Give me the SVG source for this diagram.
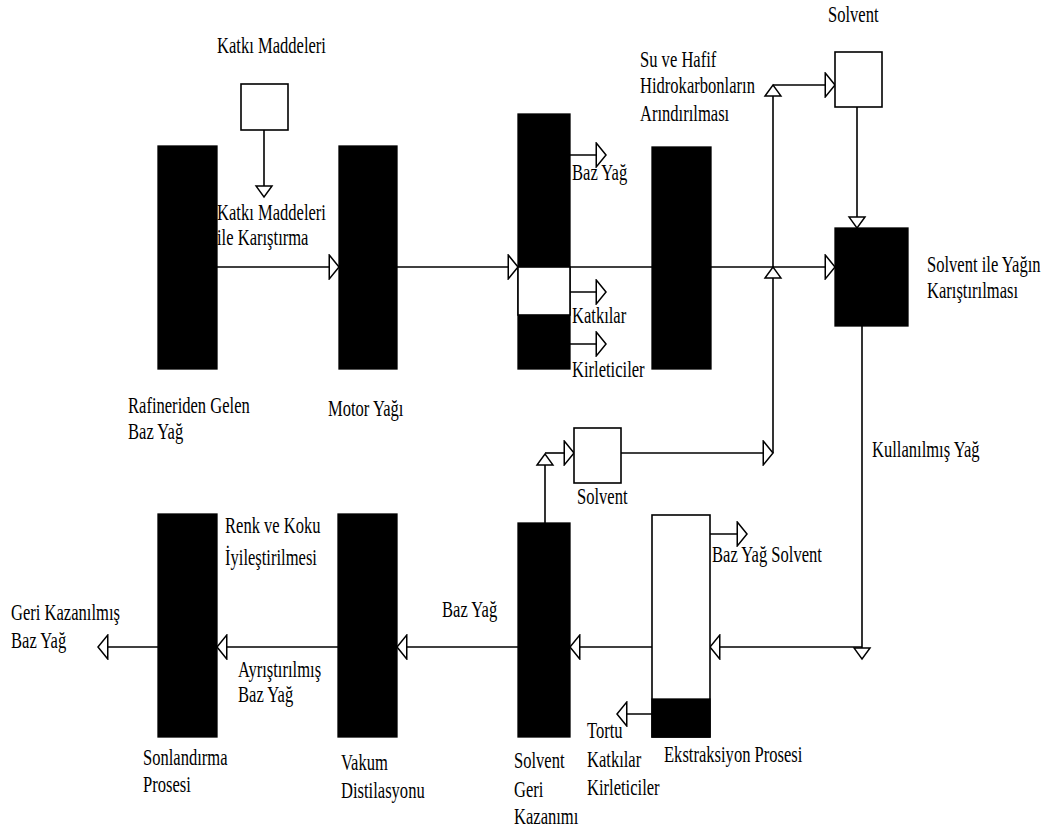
<svg xmlns="http://www.w3.org/2000/svg" width="1055" height="832" viewBox="0 0 1055 832">
<style>
.bar{fill:#000;stroke:#000;stroke-width:1.3}
.box{fill:#fff;stroke:#000;stroke-width:1.6}
.ln{fill:none;stroke:#000;stroke-width:1.6}
.lh{fill:none;stroke:#000;stroke-width:1.6;marker-end:url(#ah)}
.lv{fill:none;stroke:#000;stroke-width:1.6;marker-end:url(#av)}
.t{font-family:'Liberation Serif','DejaVu Serif','Times New Roman',serif;font-size:24px;fill:#000}
</style>
<defs>
<marker id="ah" markerUnits="userSpaceOnUse" markerWidth="14" markerHeight="26" viewBox="-1 -12 12 24" refX="9" refY="0" orient="auto">
<path d="M0,-11 L9,0 L0,11 Z" fill="#fff" stroke="#000" stroke-width="1.4"/>
</marker>
<marker id="av" markerUnits="userSpaceOnUse" markerWidth="14" markerHeight="20" viewBox="-1 -9 14 18" refX="11" refY="0" orient="auto">
<path d="M0,-8 L11,0 L0,8 Z" fill="#fff" stroke="#000" stroke-width="1.4"/>
</marker>
</defs>
<rect width="1055" height="832" fill="#fff"/>

<g id="connectors">
<path class="lv" d="M264,130 V197"/>
<path class="lh" d="M217,267 H339"/>
<path class="lh" d="M397,267 H518"/>
<path class="ln" d="M570,267 H652"/>
<path class="lh" d="M711,267 H835"/>
<path class="lh" d="M570,155 H606"/>
<path class="lh" d="M570,292 H606"/>
<path class="lh" d="M570,344 H606"/>
<path class="lv" d="M773,276 V85"/>
<path class="lv" d="M773,453 V267"/>
<path class="lh" d="M773,85 H835"/>
<path class="lv" d="M857,107 V228"/>
<path class="lh" d="M621,453 H773"/>
<path class="lv" d="M545,523 V454"/>
<path class="lh" d="M545,453 H574"/>
<path class="lv" d="M862,326 V659"/>
<path class="lh" d="M862,647 H710"/>
<path class="lh" d="M652,647 H570"/>
<path class="lh" d="M518,647 H397"/>
<path class="lh" d="M338,647 H217"/>
<path class="lh" d="M158,647 H98"/>
<path class="lh" d="M710,534 H747"/>
<path class="lh" d="M652,714 H617"/>
</g>

<g id="katki-box"><rect class="box" x="241" y="84" width="47" height="46"/>
<text class="t" font-family="Liberation Serif, serif" transform="translate(217,0) scale(0.69,1)"><tspan x="0" y="53">Katkı Maddeleri</tspan></text></g>

<g id="rafineri"><rect class="bar" x="158" y="146" width="59" height="223"/>
<text class="t" font-family="Liberation Serif, serif" transform="translate(128,0) scale(0.69,1)"><tspan x="0" y="413">Rafineriden Gelen</tspan><tspan x="0" y="439">Baz Yağ</tspan></text></g>

<g id="katki-label"><text class="t" font-family="Liberation Serif, serif" transform="translate(217,0) scale(0.69,1)"><tspan x="0" y="220">Katkı Maddeleri</tspan><tspan x="0" y="245">ile Karıştırma</tspan></text></g>

<g id="motor"><rect class="bar" x="339" y="146" width="58" height="223"/>
<text class="t" font-family="Liberation Serif, serif" transform="translate(328,0) scale(0.69,1)"><tspan x="0" y="416">Motor Yağı</tspan></text></g>

<g id="ayirma"><rect class="bar" x="518" y="114" width="52" height="255"/>
<rect class="box" x="518" y="267" width="52" height="48"/>
<text class="t" font-family="Liberation Serif, serif" transform="translate(572,0) scale(0.69,1)"><tspan x="0" y="180">Baz Yağ</tspan></text>
<text class="t" font-family="Liberation Serif, serif" transform="translate(572,0) scale(0.69,1)"><tspan x="0" y="323">Katkılar</tspan></text>
<text class="t" font-family="Liberation Serif, serif" transform="translate(572,0) scale(0.69,1)"><tspan x="0" y="377">Kirleticiler</tspan></text></g>

<g id="arindirma"><rect class="bar" x="652" y="147" width="59" height="222"/>
<text class="t" font-family="Liberation Serif, serif" transform="translate(640,0) scale(0.69,1)"><tspan x="0" y="67">Su ve Hafif</tspan><tspan x="0" y="93">Hidrokarbonların</tspan><tspan x="0" y="121">Arındırılması</tspan></text></g>

<g id="solvent-top"><rect class="box" x="835" y="52" width="47" height="55"/>
<text class="t" font-family="Liberation Serif, serif" transform="translate(828,0) scale(0.69,1)"><tspan x="0" y="22">Solvent</tspan></text></g>

<g id="karistirma"><rect class="bar" x="835" y="228" width="73" height="98"/>
<text class="t" font-family="Liberation Serif, serif" transform="translate(927,0) scale(0.69,1)"><tspan x="0" y="272">Solvent ile Yağın</tspan><tspan x="0" y="298">Karıştırılması</tspan></text></g>

<g id="kullanilmis"><text class="t" font-family="Liberation Serif, serif" transform="translate(872,0) scale(0.69,1)"><tspan x="0" y="457">Kullanılmış Yağ</tspan></text></g>

<g id="solvent-mid"><rect class="box" x="574" y="428" width="47" height="55"/>
<text class="t" font-family="Liberation Serif, serif" transform="translate(577,0) scale(0.69,1)"><tspan x="0" y="504">Solvent</tspan></text></g>

<g id="ekstraksiyon"><rect class="box" x="652" y="515" width="58" height="222"/>
<rect class="bar" x="652" y="699" width="58" height="38"/>
<text class="t" font-family="Liberation Serif, serif" transform="translate(712,0) scale(0.69,1)"><tspan x="0" y="562">Baz Yağ Solvent</tspan></text>
<text class="t" font-family="Liberation Serif, serif" transform="translate(587,0) scale(0.69,1)"><tspan x="0" y="738">Tortu</tspan><tspan x="0" y="767">Katkılar</tspan><tspan x="0" y="795">Kirleticiler</tspan></text>
<text class="t" font-family="Liberation Serif, serif" transform="translate(664,0) scale(0.69,1)"><tspan x="0" y="762">Ekstraksiyon Prosesi</tspan></text></g>

<g id="solvent-geri"><rect class="bar" x="518" y="523" width="52" height="214"/>
<text class="t" font-family="Liberation Serif, serif" transform="translate(514,0) scale(0.69,1)"><tspan x="0" y="768">Solvent</tspan><tspan x="0" y="797">Geri</tspan><tspan x="0" y="824">Kazanımı</tspan></text>
<text class="t" font-family="Liberation Serif, serif" transform="translate(442,0) scale(0.69,1)"><tspan x="0" y="617">Baz Yağ</tspan></text></g>

<g id="vakum"><rect class="bar" x="338" y="514" width="59" height="223"/>
<text class="t" font-family="Liberation Serif, serif" transform="translate(341,0) scale(0.69,1)"><tspan x="0" y="770">Vakum</tspan><tspan x="0" y="798">Distilasyonu</tspan></text>
<text class="t" font-family="Liberation Serif, serif" transform="translate(238,0) scale(0.69,1)"><tspan x="0" y="677">Ayrıştırılmış</tspan><tspan x="0" y="702">Baz Yağ</tspan></text></g>

<g id="sonlandirma"><rect class="bar" x="158" y="514" width="59" height="223"/>
<text class="t" font-family="Liberation Serif, serif" transform="translate(143,0) scale(0.69,1)"><tspan x="0" y="765">Sonlandırma</tspan><tspan x="0" y="792">Prosesi</tspan></text>
<text class="t" font-family="Liberation Serif, serif" transform="translate(225,0) scale(0.69,1)"><tspan x="0" y="533">Renk ve Koku</tspan><tspan x="0" y="565">İyileştirilmesi</tspan></text></g>

<g id="geri-kazanilmis"><text class="t" font-family="Liberation Serif, serif" transform="translate(11,0) scale(0.69,1)"><tspan x="0" y="620">Geri Kazanılmış</tspan><tspan x="0" y="648">Baz Yağ</tspan></text></g>
</svg>
